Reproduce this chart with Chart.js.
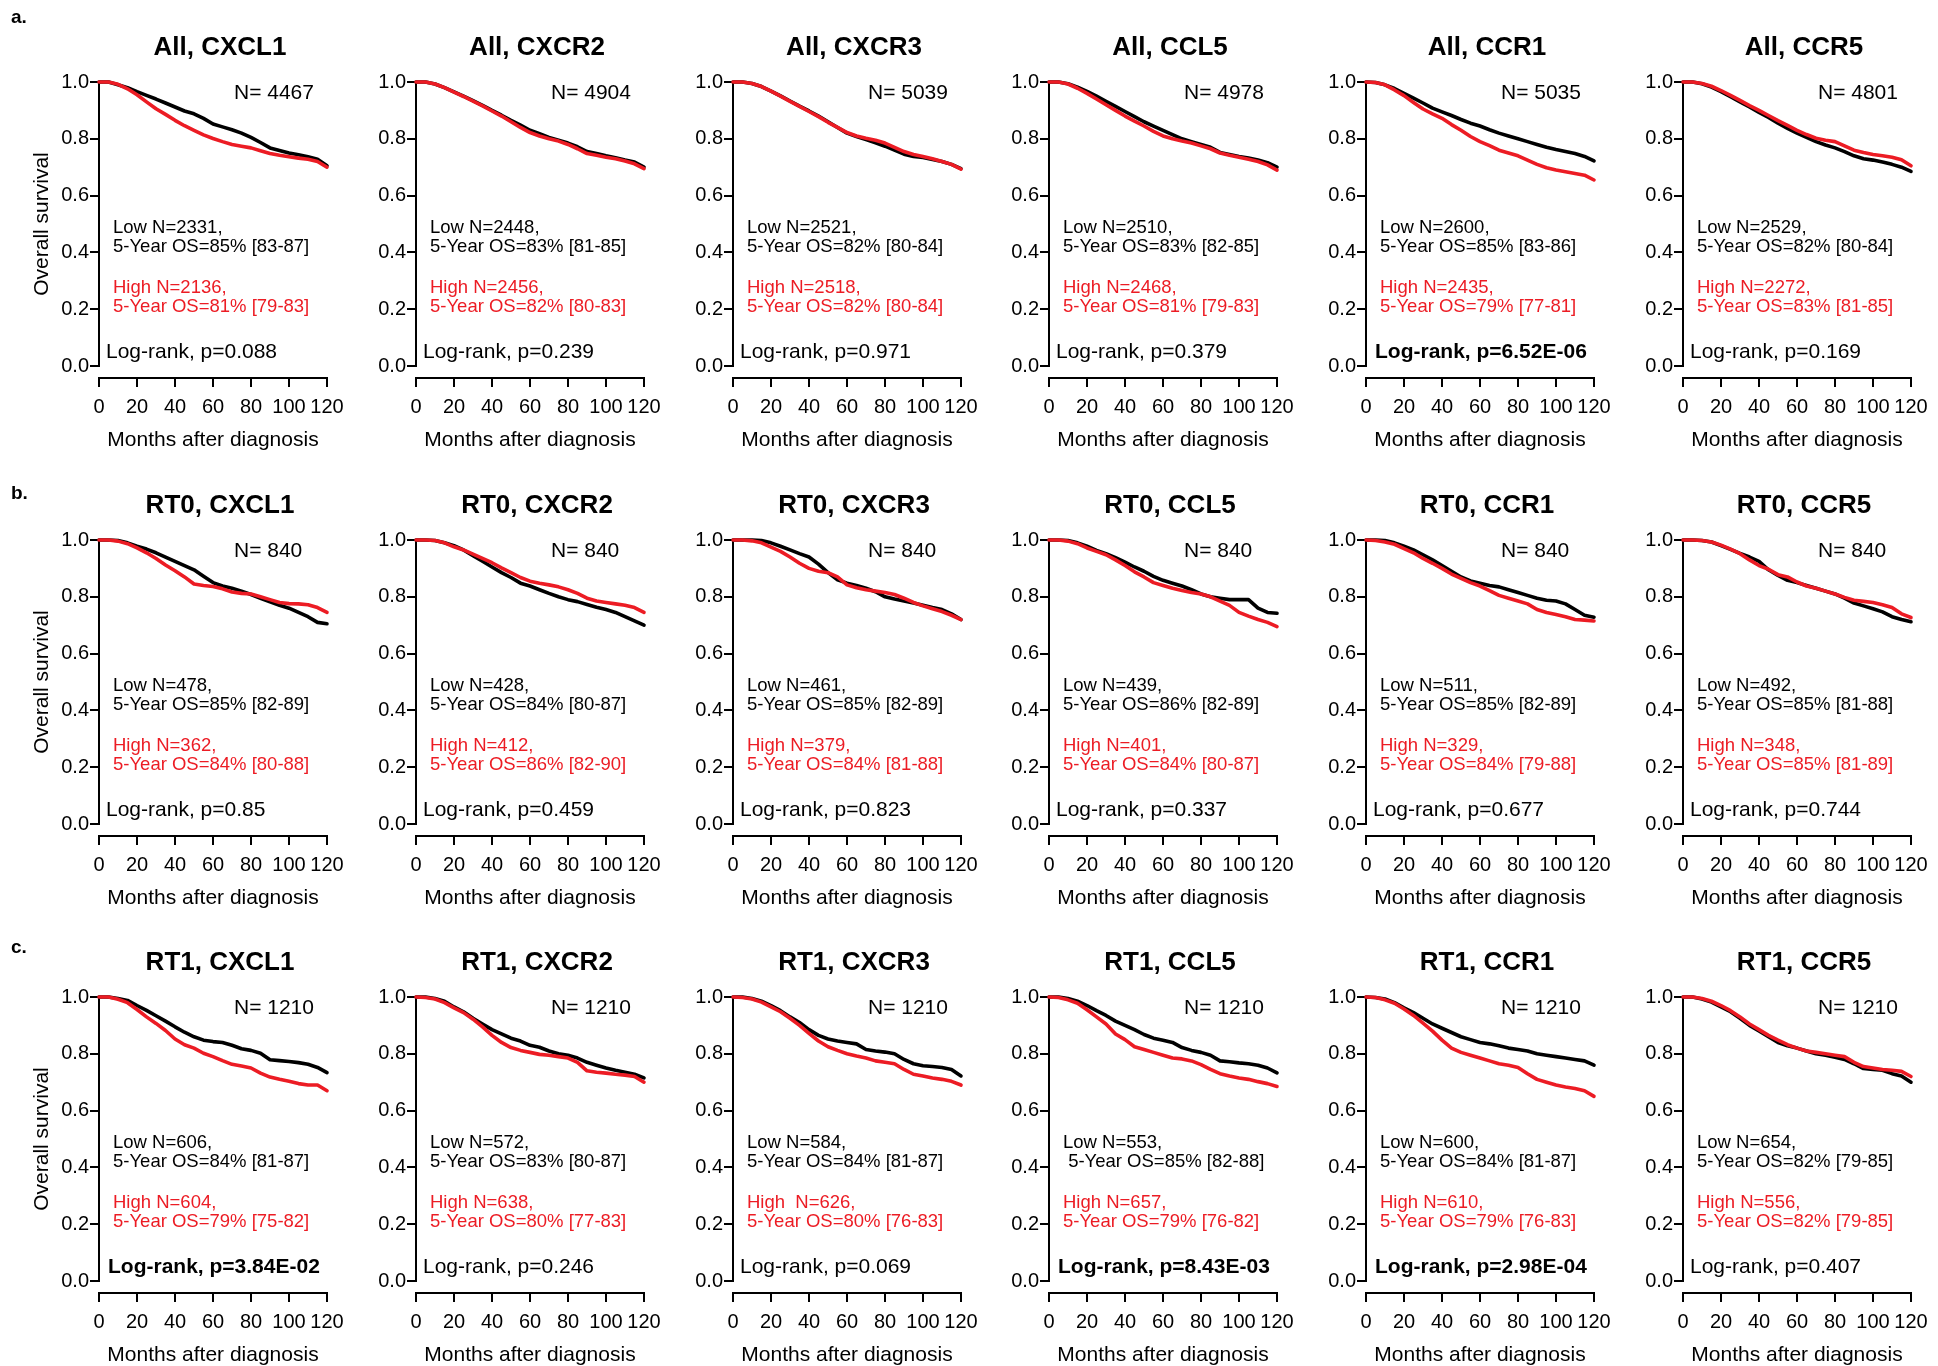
<!DOCTYPE html>
<html>
<head>
<meta charset="utf-8">
<title>Overall survival by chemokine expression</title>
<script src="https://cdn.jsdelivr.net/npm/chart.js@4.4.7/dist/chart.umd.min.js"></script>
<style>
    html, body { margin: 0; padding: 0; background: #fff; }
    #page { position: relative; width: 1938px; height: 1366px; overflow: hidden; background: #fff; }
    #page canvas { position: absolute; }
</style>
</head>
<body>
<div id="page"></div>
<script>
const FONT = '"Liberation Sans", Arial, Helvetica, sans-serif';
const RED = "#ec1c24";

// ── Axes ──
const months = [0, 5, 10, 15, 20, 25, 30, 35, 40, 45, 50, 55, 60, 65, 70, 75, 80, 85, 90, 95, 100, 105, 110, 115, 120];
const xTicks = [0, 20, 40, 60, 80, 100, 120];
const yTicks = [0, 0.2, 0.4, 0.6, 0.8, 1.0];

const cohorts = ["All", "RT0", "RT1"];
const genes = ["CXCL1", "CXCR2", "CXCR3", "CCL5", "CCR1", "CCR5"];
const panelLetters = ["a.", "b.", "c."];

// ── Survival curves (low = black, high = red) ──
const allCxcl1Low  = [1, 1, 0.99, 0.98, 0.966, 0.953, 0.94, 0.926, 0.912, 0.898, 0.888, 0.872, 0.852, 0.842, 0.832, 0.82, 0.805, 0.787, 0.768, 0.759, 0.75, 0.744, 0.737, 0.728, 0.705];
const allCxcl1High = [1, 1, 0.992, 0.976, 0.955, 0.93, 0.906, 0.886, 0.865, 0.846, 0.83, 0.814, 0.801, 0.79, 0.78, 0.774, 0.768, 0.758, 0.748, 0.742, 0.737, 0.732, 0.728, 0.72, 0.70];
const allCxcr2Low  = [1, 1, 0.993, 0.98, 0.965, 0.95, 0.934, 0.918, 0.9, 0.883, 0.865, 0.848, 0.83, 0.818, 0.805, 0.795, 0.785, 0.772, 0.755, 0.748, 0.74, 0.733, 0.725, 0.718, 0.70];
const allCxcr2High = [1, 1, 0.993, 0.98, 0.964, 0.949, 0.933, 0.916, 0.898, 0.88, 0.86, 0.84, 0.822, 0.81, 0.8, 0.792, 0.78, 0.765, 0.748, 0.742, 0.735, 0.73, 0.722, 0.712, 0.695];
const allCxcr3Low  = [1, 1, 0.995, 0.984, 0.968, 0.951, 0.933, 0.915, 0.898, 0.88, 0.86, 0.84, 0.82, 0.808, 0.797, 0.786, 0.774, 0.76, 0.746, 0.738, 0.734, 0.727, 0.72, 0.71, 0.695];
const allCxcr3High = [1, 1, 0.995, 0.984, 0.968, 0.95, 0.932, 0.914, 0.896, 0.878, 0.858, 0.84, 0.822, 0.81, 0.802, 0.795, 0.785, 0.77, 0.755, 0.745, 0.738, 0.73, 0.72, 0.71, 0.693];
const allCcl5Low   = [1, 1, 0.994, 0.982, 0.967, 0.95, 0.932, 0.914, 0.896, 0.878, 0.86, 0.845, 0.83, 0.815, 0.8, 0.79, 0.78, 0.77, 0.752, 0.745, 0.738, 0.732, 0.725, 0.716, 0.70];
const allCcl5High  = [1, 1, 0.993, 0.978, 0.96, 0.94, 0.92, 0.9, 0.88, 0.862, 0.845, 0.826, 0.81, 0.8, 0.792, 0.785, 0.775, 0.765, 0.75, 0.742, 0.735, 0.728, 0.72, 0.708, 0.69];
const allCcr1Low   = [1, 0.998, 0.99, 0.977, 0.96, 0.943, 0.926, 0.908, 0.895, 0.882, 0.868, 0.855, 0.845, 0.832, 0.82, 0.81, 0.8, 0.79, 0.78, 0.77, 0.762, 0.755, 0.748, 0.738, 0.722];
const allCcr1High  = [1, 0.998, 0.99, 0.972, 0.952, 0.928, 0.905, 0.888, 0.872, 0.85, 0.83, 0.808, 0.79, 0.776, 0.76, 0.75, 0.74, 0.725, 0.71, 0.698, 0.69, 0.684, 0.678, 0.672, 0.655];
const allCcr5Low   = [1, 1, 0.994, 0.982, 0.966, 0.948, 0.93, 0.912, 0.893, 0.875, 0.855, 0.837, 0.82, 0.805, 0.79, 0.778, 0.768, 0.755, 0.74, 0.73, 0.725, 0.718, 0.71, 0.7, 0.685];
const allCcr5High  = [1, 1, 0.995, 0.985, 0.97, 0.953, 0.935, 0.917, 0.9, 0.882, 0.864, 0.847, 0.83, 0.815, 0.802, 0.795, 0.79, 0.775, 0.76, 0.752, 0.745, 0.74, 0.735, 0.726, 0.705];

const rt0Cxcl1Low  = [1, 1, 0.998, 0.99, 0.978, 0.968, 0.955, 0.94, 0.925, 0.91, 0.895, 0.872, 0.85, 0.838, 0.83, 0.82, 0.808, 0.795, 0.782, 0.77, 0.76, 0.745, 0.73, 0.71, 0.705];
const rt0Cxcl1High = [1, 1, 0.996, 0.987, 0.972, 0.955, 0.935, 0.912, 0.892, 0.87, 0.845, 0.84, 0.836, 0.828, 0.817, 0.812, 0.81, 0.8, 0.79, 0.78, 0.776, 0.775, 0.772, 0.762, 0.745];
const rt0Cxcr2Low  = [1, 1, 0.998, 0.99, 0.98, 0.965, 0.945, 0.925, 0.905, 0.885, 0.868, 0.848, 0.838, 0.825, 0.812, 0.8, 0.79, 0.783, 0.773, 0.763, 0.755, 0.745, 0.73, 0.715, 0.70];
const rt0Cxcr2High = [1, 1, 0.998, 0.99, 0.976, 0.965, 0.95, 0.935, 0.92, 0.902, 0.885, 0.868, 0.855, 0.848, 0.842, 0.835, 0.825, 0.812, 0.795, 0.785, 0.78, 0.775, 0.77, 0.762, 0.745];
const rt0Cxcr3Low  = [1, 1, 1, 0.998, 0.99, 0.978, 0.965, 0.952, 0.94, 0.915, 0.885, 0.86, 0.848, 0.84, 0.83, 0.818, 0.8, 0.792, 0.785, 0.778, 0.77, 0.762, 0.755, 0.74, 0.72];
const rt0Cxcr3High = [1, 1, 0.997, 0.99, 0.975, 0.96, 0.94, 0.918, 0.9, 0.89, 0.885, 0.87, 0.842, 0.832, 0.825, 0.82, 0.815, 0.808, 0.795, 0.78, 0.768, 0.758, 0.748, 0.735, 0.72];
const rt0Ccl5Low   = [1, 1, 0.998, 0.99, 0.978, 0.963, 0.952, 0.938, 0.922, 0.905, 0.89, 0.872, 0.858, 0.848, 0.838, 0.825, 0.81, 0.8, 0.795, 0.79, 0.79, 0.79, 0.76, 0.745, 0.742];
const rt0Ccl5High  = [1, 1, 0.996, 0.987, 0.972, 0.96, 0.948, 0.93, 0.91, 0.888, 0.87, 0.85, 0.84, 0.83, 0.822, 0.815, 0.81, 0.8, 0.785, 0.77, 0.745, 0.732, 0.72, 0.71, 0.695];
const rt0Ccr1Low   = [1, 1, 0.998, 0.99, 0.978, 0.965, 0.948, 0.93, 0.91, 0.89, 0.87, 0.856, 0.848, 0.84, 0.835, 0.825, 0.815, 0.805, 0.795, 0.788, 0.785, 0.775, 0.755, 0.735, 0.728];
const rt0Ccr1High  = [1, 0.998, 0.993, 0.985, 0.97, 0.955, 0.935, 0.918, 0.9, 0.88, 0.865, 0.85, 0.838, 0.822, 0.805, 0.795, 0.785, 0.775, 0.755, 0.745, 0.738, 0.73, 0.72, 0.718, 0.715];
const rt0Ccr5Low   = [1, 1, 0.998, 0.993, 0.98, 0.967, 0.953, 0.94, 0.925, 0.895, 0.875, 0.858, 0.85, 0.84, 0.83, 0.82, 0.81, 0.795, 0.778, 0.768, 0.758, 0.747, 0.73, 0.72, 0.712];
const rt0Ccr5High  = [1, 1, 0.998, 0.993, 0.982, 0.968, 0.952, 0.93, 0.91, 0.897, 0.878, 0.87, 0.852, 0.838, 0.83, 0.82, 0.81, 0.798, 0.788, 0.784, 0.78, 0.772, 0.762, 0.74, 0.727];

const rt1Cxcl1Low  = [1, 1, 0.995, 0.988, 0.97, 0.953, 0.934, 0.915, 0.895, 0.876, 0.86, 0.848, 0.843, 0.84, 0.83, 0.818, 0.812, 0.802, 0.779, 0.776, 0.773, 0.769, 0.763, 0.752, 0.734];
const rt1Cxcl1High = [1, 1, 0.992, 0.98, 0.956, 0.93, 0.907, 0.882, 0.852, 0.832, 0.82, 0.802, 0.79, 0.776, 0.763, 0.757, 0.75, 0.732, 0.718, 0.71, 0.703, 0.695, 0.69, 0.69, 0.67];
const rt1Cxcr2Low  = [1, 1, 0.995, 0.985, 0.965, 0.948, 0.925, 0.905, 0.885, 0.87, 0.855, 0.845, 0.83, 0.823, 0.81, 0.8, 0.795, 0.785, 0.77, 0.76, 0.75, 0.742, 0.735, 0.728, 0.715];
const rt1Cxcr2High = [1, 0.998, 0.993, 0.98, 0.962, 0.945, 0.922, 0.895, 0.865, 0.84, 0.822, 0.812, 0.805, 0.798, 0.795, 0.79, 0.785, 0.77, 0.74, 0.735, 0.732, 0.728, 0.725, 0.72, 0.70];
const rt1Cxcr3Low  = [1, 1, 0.995, 0.985, 0.97, 0.952, 0.93, 0.91, 0.885, 0.865, 0.852, 0.845, 0.84, 0.835, 0.815, 0.81, 0.806, 0.8, 0.78, 0.765, 0.758, 0.755, 0.752, 0.745, 0.722];
const rt1Cxcr3High = [1, 0.998, 0.993, 0.982, 0.965, 0.948, 0.925, 0.9, 0.872, 0.845, 0.825, 0.812, 0.8, 0.792, 0.785, 0.775, 0.77, 0.765, 0.745, 0.728, 0.722, 0.715, 0.71, 0.703, 0.69];
const rt1Ccl5Low   = [1, 1, 0.995, 0.985, 0.97, 0.952, 0.935, 0.915, 0.9, 0.885, 0.868, 0.855, 0.848, 0.84, 0.822, 0.812, 0.805, 0.795, 0.775, 0.772, 0.768, 0.765, 0.76, 0.75, 0.733];
const rt1Ccl5High  = [1, 0.998, 0.99, 0.978, 0.955, 0.93, 0.905, 0.87, 0.85, 0.825, 0.815, 0.805, 0.795, 0.785, 0.782, 0.775, 0.762, 0.745, 0.73, 0.722, 0.715, 0.71, 0.702, 0.695, 0.685];
const rt1Ccr1Low   = [1, 0.998, 0.993, 0.98, 0.962, 0.945, 0.925, 0.905, 0.89, 0.875, 0.86, 0.85, 0.84, 0.835, 0.828, 0.82, 0.815, 0.81, 0.8, 0.795, 0.79, 0.785, 0.78, 0.775, 0.76];
const rt1Ccr1High  = [1, 0.998, 0.99, 0.978, 0.958, 0.935, 0.908, 0.88, 0.848, 0.82, 0.805, 0.795, 0.785, 0.775, 0.765, 0.76, 0.752, 0.73, 0.71, 0.7, 0.69, 0.683, 0.678, 0.67, 0.65];
const rt1Ccr5Low   = [1, 1, 0.993, 0.982, 0.965, 0.948, 0.925, 0.9, 0.88, 0.86, 0.84, 0.828, 0.82, 0.81, 0.8, 0.795, 0.788, 0.78, 0.765, 0.748, 0.745, 0.742, 0.73, 0.722, 0.70];
const rt1Ccr5High  = [1, 1, 0.995, 0.985, 0.97, 0.952, 0.93, 0.905, 0.885, 0.865, 0.848, 0.832, 0.82, 0.81, 0.805, 0.8, 0.795, 0.79, 0.77, 0.755, 0.75, 0.745, 0.742, 0.738, 0.72];

const lowCurves = [
    [allCxcl1Low, allCxcr2Low, allCxcr3Low, allCcl5Low, allCcr1Low, allCcr5Low],
    [rt0Cxcl1Low, rt0Cxcr2Low, rt0Cxcr3Low, rt0Ccl5Low, rt0Ccr1Low, rt0Ccr5Low],
    [rt1Cxcl1Low, rt1Cxcr2Low, rt1Cxcr3Low, rt1Ccl5Low, rt1Ccr1Low, rt1Ccr5Low],
];
const highCurves = [
    [allCxcl1High, allCxcr2High, allCxcr3High, allCcl5High, allCcr1High, allCcr5High],
    [rt0Cxcl1High, rt0Cxcr2High, rt0Cxcr3High, rt0Ccl5High, rt0Ccr1High, rt0Ccr5High],
    [rt1Cxcl1High, rt1Cxcr2High, rt1Cxcr3High, rt1Ccl5High, rt1Ccr1High, rt1Ccr5High],
];

// ── Panel annotations ──
const totalN = [
    [4467, 4904, 5039, 4978, 5035, 4801],
    [840, 840, 840, 840, 840, 840],
    [1210, 1210, 1210, 1210, 1210, 1210],
];
const lowLine1 = [
    ["Low N=2331,", "Low N=2448,", "Low N=2521,", "Low N=2510,", "Low N=2600,", "Low N=2529,"],
    ["Low N=478,", "Low N=428,", "Low N=461,", "Low N=439,", "Low N=511,", "Low N=492,"],
    ["Low N=606,", "Low N=572,", "Low N=584,", "Low N=553,", "Low N=600,", "Low N=654,"],
];
const lowLine2 = [
    ["5-Year OS=85% [83-87]", "5-Year OS=83% [81-85]", "5-Year OS=82% [80-84]", "5-Year OS=83% [82-85]", "5-Year OS=85% [83-86]", "5-Year OS=82% [80-84]"],
    ["5-Year OS=85% [82-89]", "5-Year OS=84% [80-87]", "5-Year OS=85% [82-89]", "5-Year OS=86% [82-89]", "5-Year OS=85% [82-89]", "5-Year OS=85% [81-88]"],
    ["5-Year OS=84% [81-87]", "5-Year OS=83% [80-87]", "5-Year OS=84% [81-87]", " 5-Year OS=85% [82-88]", "5-Year OS=84% [81-87]", "5-Year OS=82% [79-85]"],
];
const highLine1 = [
    ["High N=2136,", "High N=2456,", "High N=2518,", "High N=2468,", "High N=2435,", "High N=2272,"],
    ["High N=362,", "High N=412,", "High N=379,", "High N=401,", "High N=329,", "High N=348,"],
    ["High N=604,", "High N=638,", "High  N=626,", "High N=657,", "High N=610,", "High N=556,"],
];
const highLine2 = [
    ["5-Year OS=81% [79-83]", "5-Year OS=82% [80-83]", "5-Year OS=82% [80-84]", "5-Year OS=81% [79-83]", "5-Year OS=79% [77-81]", "5-Year OS=83% [81-85]"],
    ["5-Year OS=84% [80-88]", "5-Year OS=86% [82-90]", "5-Year OS=84% [81-88]", "5-Year OS=84% [80-87]", "5-Year OS=84% [79-88]", "5-Year OS=85% [81-89]"],
    ["5-Year OS=79% [75-82]", "5-Year OS=80% [77-83]", "5-Year OS=80% [76-83]", "5-Year OS=79% [76-82]", "5-Year OS=79% [76-83]", "5-Year OS=82% [79-85]"],
];
const pValues = [
    ["0.088", "0.239", "0.971", "0.379", "6.52E-06", "0.169"],
    ["0.85", "0.459", "0.823", "0.337", "0.677", "0.744"],
    ["3.84E-02", "0.246", "0.069", "8.43E-03", "2.98E-04", "0.407"],
];
const pSignificant = [
    [false, false, false, false, true, false],
    [false, false, false, false, false, false],
    [true, false, false, true, true, false],
];

// ── Page layout ──
const colLeft = [0, 317, 634, 950, 1267, 1584];
const rowTop = [0, 458, 915];
const letterBaseline = [23, 41, 38];
const CANVAS_W = 360;
const CANVAS_H = 458;

function drawText(ctx, str, x, y, size, opts = {}) {
    ctx.font = `${opts.bold ? "bold " : ""}${size}px ${FONT}`;
    ctx.fillStyle = opts.color || "#000";
    ctx.textAlign = opts.align || "left";
    ctx.textBaseline = "alphabetic";
    ctx.fillText(str, x, y);
}

const kmPlugin = {
    id: "kmText",
    beforeDatasetsDraw(chart) {
        // y axis line stops at 0.0, detached from the x axis below it
        const { ctx, chartArea } = chart;
        const y = chart.scales.y;
        ctx.save();
        ctx.strokeStyle = "#000";
        ctx.lineWidth = 2;
        ctx.beginPath();
        ctx.moveTo(chartArea.left, y.getPixelForValue(0) + 1);
        ctx.lineTo(chartArea.left, y.getPixelForValue(1) - 1);
        ctx.stroke();
        ctx.restore();
    },
    afterDraw(chart, args, o) {
        const { ctx, chartArea } = chart;
        const ax = chartArea.left;
        const top = chart.scales.y.getPixelForValue(1);
        ctx.save();
        drawText(ctx, o.title, ax + 121, top - 27, 26, { bold: true, align: "center" });
        drawText(ctx, "N= " + o.n, ax + 135, top + 17, 21);
        drawText(ctx, o.low1, ax + 14, top + 151, 18.5);
        drawText(ctx, o.low2, ax + 14, top + 170, 18.5);
        drawText(ctx, o.high1, ax + 14, top + 211, 18.5, { color: RED });
        drawText(ctx, o.high2, ax + 14, top + 230, 18.5, { color: RED });
        drawText(ctx, "Log-rank, p=" + o.p, ax + (o.bold ? 9 : 7), top + 276, 21, { bold: o.bold });
        if (o.letter) {
            drawText(ctx, o.letter, 11, o.letterY, 19, { bold: true });
            ctx.translate(42, top + 142);
            ctx.rotate(-Math.PI / 2);
            ctx.font = `21px ${FONT}`;
            ctx.textAlign = "center";
            ctx.textBaseline = "middle";
            ctx.fillStyle = "#000";
            ctx.fillText("Overall survival", 0, 0);
        }
        ctx.restore();
    },
};

const toPoints = (vals) => months.map((m, i) => ({ x: m, y: vals[i] }));

const page = document.getElementById("page");

cohorts.forEach((cohort, r) => {
    genes.forEach((gene, c) => {
        const canvas = document.createElement("canvas");
        canvas.width = CANVAS_W;
        canvas.height = CANVAS_H;
        canvas.style.left = colLeft[c] + "px";
        canvas.style.top = rowTop[r] + "px";
        page.appendChild(canvas);

        const line = (vals, color) => ({
            data: toPoints(vals),
            borderColor: color,
            borderWidth: 3.6,
            borderCapStyle: "round",
            borderJoinStyle: "round",
            pointRadius: 0,
            tension: 0,
            fill: false,
            clip: false,
        });

        new Chart(canvas, {
            type: "line",
            data: {
                // red drawn last (dataset 0 sits on top)
                datasets: [line(highCurves[r][c], RED), line(lowCurves[r][c], "#000")],
            },
            options: {
                responsive: false,
                animation: false,
                devicePixelRatio: 1,
                events: [],
                layout: { padding: { left: 0, top: 82, right: 33, bottom: 0 } },
                plugins: {
                    legend: { display: false },
                    tooltip: { enabled: false },
                    kmText: {
                        title: `${cohort}, ${gene}`,
                        n: totalN[r][c],
                        low1: lowLine1[r][c],
                        low2: lowLine2[r][c],
                        high1: highLine1[r][c],
                        high2: highLine2[r][c],
                        p: pValues[r][c],
                        bold: pSignificant[r][c],
                        letter: c === 0 ? panelLetters[r] : null,
                        letterY: letterBaseline[r],
                    },
                },
                scales: {
                    x: {
                        type: "linear",
                        min: 0,
                        max: 120,
                        afterBuildTicks: (axis) => { axis.ticks = xTicks.map((v) => ({ value: v })); },
                        afterFit: (axis) => { axis.height = 80; },
                        grid: { drawOnChartArea: false, drawTicks: true, tickLength: 9, color: "#000", lineWidth: 2 },
                        border: { display: true, color: "#000", width: 2 },
                        ticks: { color: "#000", padding: 8, maxRotation: 0, autoSkip: false, font: { family: FONT, size: 20 } },
                        title: {
                            display: true,
                            text: "Months after diagnosis",
                            color: "#000",
                            font: { family: FONT, size: 21 },
                            padding: { top: 0, bottom: 5 },
                        },
                    },
                    y: {
                        type: "linear",
                        min: -12 / 284,
                        max: 1,
                        afterBuildTicks: (axis) => { axis.ticks = yTicks.map((v) => ({ value: v })); },
                        afterFit: (axis) => { axis.width = 99; },
                        grid: { drawOnChartArea: false, drawTicks: true, tickLength: 9, color: "#000", lineWidth: 2 },
                        border: { display: false },
                        ticks: {
                            color: "#000",
                            padding: 1,
                            font: { family: FONT, size: 20 },
                            callback: (v) => Number(v).toFixed(1),
                        },
                    },
                },
            },
            plugins: [kmPlugin],
        });
    });
});
</script>
</body>
</html>
